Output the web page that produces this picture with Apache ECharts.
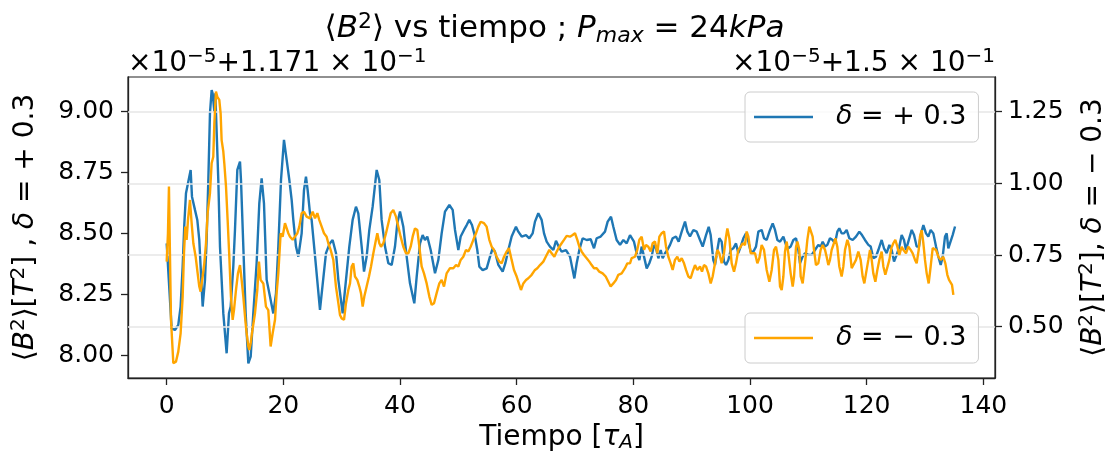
<!DOCTYPE html>
<html>
<head>
<meta charset="utf-8">
<script src="https://cdn.jsdelivr.net/npm/echarts@6/dist/echarts.min.js"></script>
<style>
html,body{margin:0;padding:0;background:#fff;}
#chart{width:1109px;height:457px;}
</style>
</head>
<body>
<div id="chart"></div>
<script>
// ---- data ----
// delta = +0.3 (left axis, values shown as x1e-5 + 0.1171)
const timePlus = [0,0.85,1.42,1.99,2.39,2.74,3.02,3.31,3.59,4.11,4.34,4.85,5.25,5.59,5.82,6.17,6.57,6.85,7.14,7.42,7.71,7.88,8.17,8.34,8.85,9.14,9.71,10.28,10.68,10.97,11.42,11.71,12.11,12.57,12.74,13.14,13.54,14.00,14.40,14.85,15.42,15.88,16.28,16.68,17.14,17.71,18.28,18.74,19.14,19.60,20.11,20.57,21.03,21.43,21.71,22.17,22.57,23.14,23.54,23.88,24.17,24.57,
24.85,25.60,26.28,27.31,27.95,28.45,29.03,29.43,30.17,30.74,31.31,31.88,32.45,32.85,33.43,33.83,34.28,34.74,35.31,36.00,36.45,36.85,37.43,38.00,38.57,39.14,39.54,40.00,40.57,41.14,41.71,42.45,42.86,43.43,43.88,44.28,44.68,45.26,46.00,46.57,47.14,47.71,48.46,
49.03,49.43,50.00,50.40,50.97,51.43,51.88,52.34,52.85,53.25,53.60,54.17,54.86,55.43,55.88,56.28,56.86,57.60,58.06,58.57,59.14,59.88,60.28,60.86,61.60,62.17,62.74,63.14,63.71,64.28,64.69,65.14,65.71,66.29,66.74,67.20,67.71,68.46,69.14,69.89,70.29,70.74,71.31,72.00,72.69,73.26,73.71,74.40,75.14,75.60,76.17,76.57,77.14,77.72,78.29,78.86,79.43,
79.71,80.11,80.57,81.03,81.43,81.83,82.29,82.74,83.14,83.54,83.89,84.29,84.69,85.03,85.43,85.83,86.29,86.74,87.31,87.77,88.29,88.86,89.26,89.71,90.29,90.86,91.43,91.89,92.46,92.92,93.26,93.71,94.00,94.40,94.74,95.14,95.54,95.89,96.29,96.69,97.14,97.60,98.00,98.40,98.86,99.32,99.72,100.12,100.57,101.03,101.43,102.00,102.40,102.86,103.43,103.89,104.29,104.69,105.15,105.72,106.17,106.57,106.97,107.43,107.89,108.29,108.57,109.03,109.43,110.00,
110.57,111.14,111.71,112.11,112.46,112.86,113.26,113.71,114.17,114.57,114.97,115.31,115.71,116.11,116.57,117.03,117.60,118.17,118.74,119.20,119.71,120.29,120.69,121.14,121.60,122.00,122.57,122.97,123.43,123.89,124.29,124.69,125.14,125.60,126.00,126.40,126.74,127.14,127.72,128.12,128.57,128.97,129.26,129.72,130.17,130.57,130.97,131.43,131.89,132.29,132.69,133.03,133.43,133.72,134.00,134.29,134.74,135.15];
const b2Plus = [8.459,8.112,8.105,8.126,8.201,8.364,8.534,8.664,8.657,8.759,8.650,8.596,8.555,8.473,8.364,8.201,8.310,8.473,8.718,8.990,9.086,9.072,8.997,9.072,8.718,8.446,8.173,8.010,8.173,8.201,8.364,8.514,8.759,8.793,8.718,8.446,8.173,7.969,7.996,8.173,8.378,8.623,8.725,8.623,8.310,8.242,8.173,8.255,8.446,8.718,8.882,8.800,8.718,8.636,8.555,8.446,8.405,8.500,8.677,8.732,8.677,8.582,
8.555,8.364,8.187,8.419,8.459,8.473,8.419,8.310,8.173,8.310,8.446,8.555,8.609,8.582,8.446,8.344,8.405,8.514,8.609,8.759,8.718,8.555,8.446,8.378,8.371,8.446,8.541,8.589,8.527,8.405,8.296,8.214,8.323,8.459,8.493,8.473,8.487,8.432,8.337,8.391,8.500,8.589,8.616,
8.596,8.514,8.432,8.487,8.514,8.534,8.555,8.534,8.487,8.432,8.364,8.350,8.357,8.405,8.439,8.425,8.371,8.344,8.378,8.432,8.487,8.527,8.507,8.487,8.493,8.480,8.500,8.548,8.582,8.555,8.500,8.466,8.446,8.432,8.470,8.446,8.425,8.432,8.405,8.316,8.378,8.432,8.480,8.473,8.476,8.439,8.480,8.487,8.507,8.548,8.568,8.527,8.473,8.453,8.473,8.459,8.493,
8.493,8.466,8.419,8.391,8.446,8.405,8.357,8.378,8.405,8.453,8.439,8.398,8.432,8.398,8.419,8.432,8.453,8.480,8.487,8.466,8.507,8.548,8.507,8.487,8.514,8.507,8.473,8.446,8.493,8.527,8.493,8.391,8.371,8.432,8.480,8.466,8.385,8.371,8.391,8.432,8.439,8.459,8.419,8.446,8.480,8.500,8.466,8.425,8.425,8.446,8.507,8.514,8.480,8.473,8.514,8.541,8.514,8.473,8.466,8.487,8.453,8.439,8.446,8.473,8.480,8.432,8.378,8.405,8.419,8.412,
8.412,8.432,8.453,8.446,8.466,8.446,8.453,8.480,8.473,8.459,8.507,8.521,8.500,8.500,8.514,8.480,8.473,8.487,8.507,8.493,8.473,8.453,8.446,8.398,8.405,8.432,8.473,8.439,8.419,8.453,8.432,8.385,8.412,8.446,8.493,8.473,8.432,8.466,8.514,8.493,8.446,8.446,8.493,8.534,8.500,8.487,8.514,8.500,8.446,8.405,8.371,8.405,8.487,8.500,8.439,8.446,8.493,8.528];

// delta = -0.3 (right axis, values shown as x1e-5 + 0.15)
const timeMinus = [0.00,0.22,0.39,0.56,0.74,1.14,1.59,1.99,2.39,2.74,2.97,3.19,3.42,3.65,3.99,4.28,4.57,4.97,5.31,5.59,5.82,6.17,6.45,6.74,7.02,7.42,7.71,7.99,8.17,8.45,8.68,9.02,9.25,9.42,9.71,9.88,10.17,10.45,10.74,11.02,11.31,11.54,11.88,12.22,12.57,12.85,13.14,13.48,13.71,14.00,14.17,14.40,14.62,14.85,15.14,15.54,15.82,16.11,16.57,17.02,17.42,17.82,18.17,18.57,18.85,19.14,19.54,19.88,20.28,20.57,20.85,21.14,21.60,21.99,22.40,22.74,23.14,23.54,23.99,24.57,
25.03,25.43,25.83,26.17,26.57,26.97,27.42,27.71,28.11,28.57,29.02,29.43,29.71,30.00,30.40,30.74,31.14,31.43,31.71,32.00,32.28,32.68,33.03,33.31,33.60,33.88,34.28,34.68,35.03,35.43,35.88,36.11,36.45,36.74,37.14,37.60,38.00,38.40,38.85,39.31,39.71,40.11,40.57,41.03,41.43,41.83,42.17,42.57,42.97,43.31,43.71,44.11,44.57,45.03,45.43,45.83,46.28,46.74,47.14,47.54,47.99,48.57,
49.14,49.60,50.00,50.40,50.85,51.31,51.71,52.11,52.57,53.03,53.43,53.83,54.40,54.85,55.31,55.71,56.11,56.57,57.03,57.43,57.83,58.28,58.68,59.14,59.54,60.00,60.46,60.74,61.14,61.60,62.00,62.57,63.14,63.54,64.00,64.57,65.14,65.60,66.00,66.46,66.86,67.31,67.71,68.11,68.57,69.14,69.60,70.00,70.40,70.74,71.14,71.54,72.00,72.46,72.86,73.26,73.71,74.17,74.74,75.26,75.71,76.11,76.57,77.03,77.43,78.00,78.57,78.97,79.43,
79.71,80.29,80.68,81.03,81.43,81.83,82.17,82.57,82.97,83.31,83.71,84.11,84.46,84.86,85.26,85.60,86.00,86.40,86.74,87.14,87.54,87.89,88.29,88.69,89.03,89.43,89.83,90.17,90.57,90.97,91.43,91.77,92.11,92.46,92.86,93.26,93.60,94.00,94.40,94.74,95.14,95.54,95.89,96.12,96.46,96.86,97.26,97.60,98.00,98.40,98.74,99.14,99.43,99.72,100.12,100.46,100.86,101.26,101.60,102.00,102.40,102.86,103.32,103.72,104.12,104.46,104.86,105.15,105.43,105.72,106.00,106.29,106.57,106.97,107.32,107.55,107.89,108.12,108.46,108.69,109.03,109.43,109.83,110.17,
110.46,110.74,110.97,111.31,111.71,112.11,112.46,112.86,113.14,113.43,113.71,114.00,114.29,114.63,114.97,115.31,115.71,116.00,116.29,116.69,117.03,117.43,117.71,118.17,118.57,118.97,119.31,119.60,119.89,120.29,120.57,120.86,121.14,121.49,121.83,122.17,122.57,122.86,123.20,123.54,123.89,124.23,124.57,124.91,125.26,125.60,126.00,126.29,126.74,127.14,127.54,127.89,128.29,128.57,128.92,129.14,129.43,129.72,130.00,130.29,130.63,130.97,131.32,131.54,131.89,132.29,132.69,133.14,133.49,133.83,134.12,134.40,134.63,134.86];
const b2Minus = [0.727,0.826,0.989,0.756,0.524,0.373,0.378,0.413,0.477,0.605,0.756,0.849,0.803,0.872,0.942,0.861,0.791,0.744,0.686,0.640,0.622,0.675,0.721,0.791,0.896,0.965,1.070,1.093,1.209,1.320,1.302,1.291,1.244,1.151,1.111,1.070,0.989,0.872,0.744,0.605,0.524,0.558,0.628,0.686,0.715,0.663,0.605,0.524,0.477,0.431,0.419,0.442,0.477,0.477,0.547,0.628,0.727,0.663,0.651,0.570,0.558,0.431,0.477,0.524,0.617,0.686,0.826,0.814,0.861,0.861,0.826,0.814,0.803,0.814,0.826,0.849,0.896,0.901,0.884,0.878,
0.901,0.878,0.896,0.872,0.849,0.826,0.814,0.791,0.768,0.733,0.640,0.582,0.541,0.529,0.524,0.582,0.628,0.651,0.710,0.721,0.675,0.663,0.640,0.617,0.570,0.605,0.640,0.675,0.710,0.756,0.803,0.826,0.791,0.779,0.791,0.826,0.861,0.896,0.907,0.884,0.849,0.814,0.779,0.756,0.756,0.779,0.814,0.843,0.837,0.779,0.710,0.686,0.651,0.605,0.576,0.582,0.617,0.651,0.663,0.640,0.686,0.704,
0.704,0.715,0.710,0.733,0.744,0.768,0.762,0.779,0.803,0.826,0.849,0.866,0.861,0.849,0.803,0.779,0.768,0.744,0.727,0.721,0.744,0.762,0.774,0.733,0.698,0.675,0.646,0.628,0.651,0.663,0.669,0.681,0.698,0.704,0.715,0.727,0.750,0.768,0.756,0.744,0.762,0.779,0.791,0.803,0.817,0.814,0.820,0.826,0.803,0.779,0.762,0.750,0.739,0.727,0.715,0.704,0.704,0.692,0.686,0.675,0.657,0.640,0.651,0.663,0.681,0.686,0.704,0.721,0.721,
0.739,0.744,0.768,0.803,0.814,0.768,0.785,0.779,0.762,0.791,0.797,0.756,0.814,0.826,0.832,0.779,0.744,0.721,0.698,0.733,0.744,0.727,0.739,0.721,0.698,0.675,0.669,0.692,0.715,0.698,0.710,0.692,0.715,0.710,0.686,0.651,0.675,0.721,0.768,0.756,0.721,0.756,0.814,0.843,0.808,0.721,0.692,0.721,0.768,0.779,0.791,0.785,0.832,0.814,0.756,0.762,0.756,0.721,0.739,0.785,0.768,0.698,0.657,0.698,0.768,0.779,0.733,0.640,0.628,0.675,0.762,0.797,0.756,0.686,0.640,0.675,0.779,0.797,0.768,0.675,0.651,0.721,0.803,0.849,
0.855,0.814,0.768,0.715,0.721,0.768,0.785,0.768,0.744,0.715,0.733,0.768,0.785,0.808,0.779,0.710,0.675,0.710,0.768,0.803,0.779,0.704,0.698,0.733,0.762,0.733,0.675,0.651,0.686,0.733,0.768,0.733,0.686,0.657,0.698,0.733,0.762,0.710,0.681,0.675,0.733,0.774,0.791,0.803,0.779,0.750,0.779,0.768,0.756,0.779,0.768,0.756,0.733,0.721,0.768,0.814,0.837,0.791,0.733,0.686,0.651,0.710,0.774,0.779,0.768,0.744,0.733,0.744,0.721,0.681,0.663,0.657,0.646,0.611];

// axis ticks / labels
const xTicks = [0, 20, 40, 60, 80, 100, 120, 140];
const leftTicks = [8.00, 8.25, 8.50, 8.75, 9.00];
const rightTicks = [0.50, 0.75, 1.00, 1.25];

const zip = (a, b) => a.map((v, i) => [v, b[i]]);

const FONT = 'DejaVu Sans';
const TICK_FS = 25;
const LABEL_FS = 28;
const mathRich = (fs) => ({
  n: {fontFamily: FONT, fontSize: fs, fontWeight: 'normal', color: '#000'},
  i: {fontFamily: FONT, fontSize: fs, fontWeight: 'normal', fontStyle: 'italic', color: '#000'},
  sup: {fontFamily: FONT, fontSize: Math.round(fs * 0.7), fontWeight: 'normal', color: '#000', verticalAlign: 'top', padding: [0, 0, Math.round(fs*0.45), 0]},
  sub: {fontFamily: FONT, fontSize: Math.round(fs * 0.7), fontWeight: 'normal', fontStyle: 'italic', color: '#000', verticalAlign: 'bottom', padding: [Math.round(fs*0.35), 0, 0, 0]}
});

const chart = echarts.init(document.getElementById('chart'), null, {renderer: 'canvas'});

const GRID = {left: 128, right: 114, top: 77, bottom: 79};
const LINE_STYLE = {color: '#222', width: 1.3};

const option = {
  animation: false,
  backgroundColor: '#fff',
  title: {
    text: '{n|⟨}{i|B}{sup|2}{n|⟩ vs tiempo ; }{i|P}{sub|max}{n| = 24}{i|kPa}',
    left: 'center',
    top: 6,
    textStyle: {fontWeight: 'normal', rich: mathRich(31)}
  },
  grid: Object.assign({show: true, borderColor: '#222', borderWidth: 1.2, backgroundColor: 'transparent', containLabel: false, outerBoundsMode: 'none'}, GRID),
  legend: [
    {
      data: ['plus'], left: 745, top: 92, orient: 'vertical',
      icon: 'rect', itemWidth: 59, itemHeight: 2.4,
      backgroundColor: 'rgba(255,255,255,0.8)', borderColor: '#cccccc', borderWidth: 1, borderRadius: 5,
      padding: [10, 12, 10, 9],
      formatter: () => '{i|δ}{n| = + 0.3}',
      textStyle: {padding: [0, 0, 0, 18], lineHeight: 30, rich: mathRich(27)}
    },
    {
      data: ['minus'], left: 745, top: 313, orient: 'vertical',
      icon: 'rect', itemWidth: 59, itemHeight: 2.4,
      backgroundColor: 'rgba(255,255,255,0.8)', borderColor: '#cccccc', borderWidth: 1, borderRadius: 5,
      padding: [10, 12, 10, 9],
      formatter: () => '{i|δ}{n| = − 0.3}',
      textStyle: {padding: [0, 0, 0, 18], lineHeight: 30, rich: mathRich(27)}
    }
  ],
  xAxis: {
    type: 'value', min: -6.63, max: 142.0,
    name: '{n|Tiempo [}{i|τ}{sub|A}{n|]}', nameLocation: 'middle', nameGap: 45,
    nameTextStyle: {rich: mathRich(LABEL_FS)},
    axisLine: {show: true, onZero: false, lineStyle: LINE_STYLE},
    axisTick: {show: true, inside: false, length: 7, customValues: xTicks, lineStyle: LINE_STYLE},
    axisLabel: {customValues: xTicks, margin: 16, fontFamily: FONT, fontSize: TICK_FS, color: '#000', formatter: v => String(v)},
    splitLine: {show: false}
  },
  yAxis: [
    {
      type: 'value', position: 'left', min: 7.909, max: 9.139,
      name: '{n|⟨}{i|B}{sup|2}{n|⟩[}{i|T}{sup|2}{n|] , }{i|δ}{n| = + 0.3}', nameLocation: 'middle', nameRotate: 90, nameGap: 86,
      nameTextStyle: {rich: mathRich(LABEL_FS)},
      axisLine: {show: true, onZero: false, lineStyle: LINE_STYLE},
      axisTick: {show: true, inside: false, length: 7, customValues: leftTicks, lineStyle: LINE_STYLE},
      axisLabel: {customValues: leftTicks, margin: 14, fontFamily: FONT, fontSize: TICK_FS, color: '#000', formatter: v => v.toFixed(2)},
      splitLine: {show: false}
    },
    {
      type: 'value', position: 'right', min: 0.321, max: 1.371,
      name: '{n|⟨}{i|B}{sup|2}{n|⟩[}{i|T}{sup|2}{n|], }{i|δ}{n| = − 0.3}', nameLocation: 'middle', nameRotate: 90, nameGap: 82,
      nameTextStyle: {rich: mathRich(LABEL_FS)},
      axisLine: {show: true, onZero: false, lineStyle: LINE_STYLE},
      axisTick: {show: true, inside: false, length: 7, customValues: rightTicks, lineStyle: LINE_STYLE},
      axisLabel: {customValues: rightTicks, margin: 13, fontFamily: FONT, fontSize: TICK_FS, color: '#000', formatter: v => v.toFixed(2)},
      splitLine: {show: false}
    }
  ],
  graphic: [
    {
      type: 'text', left: 128, top: 47,
      style: {text: '{n|×10}{sup|−5}{n|+1.171 × 10}{sup|−1}', rich: mathRich(28)}
    },
    {
      type: 'text', right: 114, top: 47,
      style: {text: '{n|×10}{sup|−5}{n|+1.5 × 10}{sup|−1}', rich: mathRich(28)}
    }
  ],
  series: [
    {
      name: 'plus', type: 'line', xAxisIndex: 0, yAxisIndex: 0,
      data: zip(timePlus, b2Plus), showSymbol: false, symbol: 'none',
      lineStyle: {color: '#1f77b4', width: 2.4}, itemStyle: {color: '#1f77b4'}, z: 2
    },
    {
      name: 'minus', type: 'line', xAxisIndex: 0, yAxisIndex: 1,
      data: zip(timeMinus, b2Minus), showSymbol: false, symbol: 'none',
      lineStyle: {color: '#ffa500', width: 2.4}, itemStyle: {color: '#ffa500'}, z: 10,
      markLine: {
        silent: true, symbol: ['none', 'none'], label: {show: false}, z: 3,
        lineStyle: {color: '#e6e6e6', type: 'solid', width: 1.5},
        data: rightTicks.map(v => ({yAxis: v}))
      }
    }
  ]
};
chart.setOption(option);
</script>
</body>
</html>
